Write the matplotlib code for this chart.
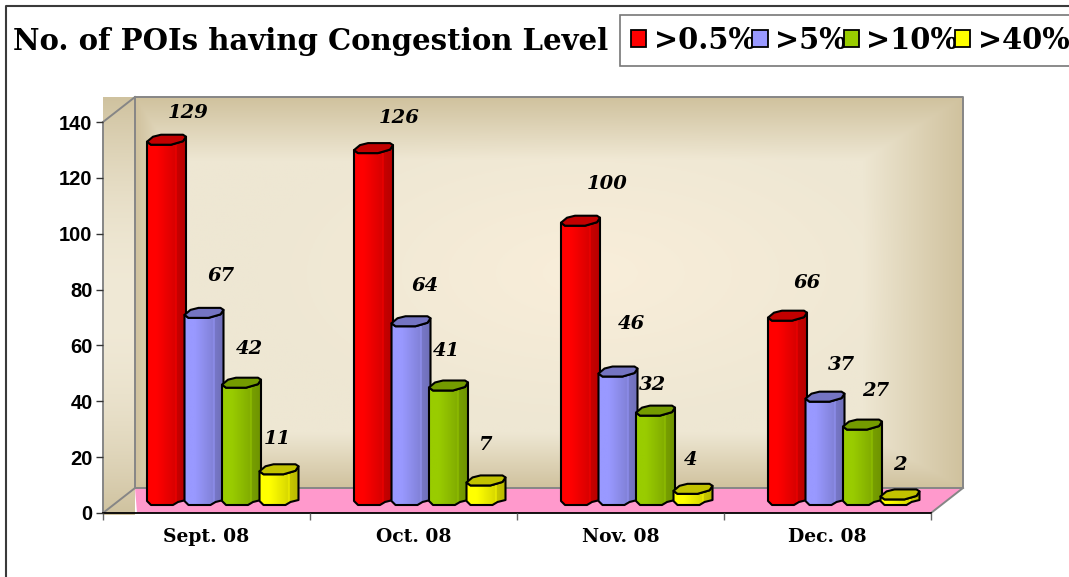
#!/usr/bin/env python3
"""Pseudo-3D clustered columns: POIs per congestion level, Sept.-Dec. 2008."""

import matplotlib
matplotlib.use("Agg")
import matplotlib.pyplot as plt
from matplotlib.colors import to_rgb
from matplotlib.lines import Line2D
from matplotlib.patches import Patch, Polygon
from matplotlib.transforms import IdentityTransform
import numpy as np

MONTHS = ["Sept. 08", "Oct. 08", "Nov. 08", "Dec. 08"]
LEVELS = [">0.5%", ">5%", ">10%", ">40%"]
OVER_05 = [129, 126, 100, 66]
OVER_5 = [67, 64, 46, 37]
OVER_10 = [42, 41, 32, 27]
OVER_40 = [11, 7, 4, 2]
SERIES = [OVER_05, OVER_5, OVER_10, OVER_40]
COLORS = ["#FF0000", "#9999FF", "#99CC00", "#FFFF00"]
TITLE = "No. of POIs having Congestion Level"
Y_TICKS = [0, 20, 40, 60, 80, 100, 120, 140]

# label nudges from each column's front top centre, in pixels
LABEL_NUDGE = [
    [(22, 32), (26, 35), (27, 42), (20, 38)],
    [(17, 42), (14, 40), (14, 53), (17, 37)],
    [(8, 39), (-2, 39), (-3, 31), (13, 39)],
    [(-2, 35), (0, 40), (-2, 34), (0, 34)],
]

SERIF = "DejaVu Serif"
W, H = 1069, 577
DEPTH_X, DEPTH_Y = 32, 25
BAR_W, BAR_STEP, BAR_LEFT, BAR_LIFT = 39, 37.5, 44, 8


def shade(color, k):
    return np.clip(np.array(to_rgb(color)) * k, 0, 1)


def face_gradient(color):
    u = np.linspace(0, 1, 80)
    k = np.interp(u, [0, 0.25, 0.72, 0.73, 0.76, 0.77, 1], [1, 1, 0.85, 0.92, 0.92, 0.78, 0.72])
    return np.array([[shade(color, v) for v in k]])


def wall_gradient():
    yy, xx = np.mgrid[0:1:200j, 0:1:400j]
    edge = np.maximum.reduce([
        1 - yy / 0.14, (yy - 0.84) / 0.16, 1 - xx / 0.05, (xx - 0.88) / 0.12,
    ])
    edge = np.clip(edge, 0, 1)[..., None]
    r = np.clip(np.hypot((xx - 0.55) / 0.4, (yy - 0.55) / 0.4), 0, 1)[..., None]
    inner, mid = np.array(to_rgb("#F9EEDA")), np.array(to_rgb("#EEE7D3"))
    outer = np.array(to_rgb("#D0C29E"))
    base = inner + (mid - inner) * r
    return base + (outer - base) * edge


def side_gradient():
    v = np.linspace(0, 1, 200)
    c0, c1 = np.array(to_rgb("#F0E9D6")), np.array(to_rgb("#CFC29F"))
    t = np.abs(v - 0.5)[..., None] * 2
    return (c0 + (c1 - c0) * t ** 2)[:, None, :]


def draw_walls(ax):
    ident = IdentityTransform()
    x0, y0 = ax.transData.transform((0, 0))
    x1, y1 = ax.transData.transform((4, 140))
    back = (x0 + DEPTH_X, x1 + DEPTH_X, y0 + DEPTH_Y, y1 + DEPTH_Y)
    ax.imshow(wall_gradient(), extent=back, transform=ident, origin="lower",
              aspect="auto", zorder=0, clip_on=False)
    ax.imshow(side_gradient(), extent=(x0, x0 + DEPTH_X, y0 - 2, y1 + DEPTH_Y),
              transform=ident, origin="lower", aspect="auto", zorder=0, clip_on=False)
    floor = [(x0 + 34, y0), (x1, y0), (x1 + DEPTH_X, y0 + DEPTH_Y), (x0 + DEPTH_X, y0 + DEPTH_Y)]
    ax.add_patch(Polygon(floor, closed=True, fc="#FF99CC", ec="none", transform=ident,
                         zorder=0.5, clip_on=False))
    wire = [
        ([x0 + DEPTH_X, x1 + DEPTH_X, x1 + DEPTH_X, x0 + DEPTH_X, x0 + DEPTH_X],
         [y1 + DEPTH_Y, y1 + DEPTH_Y, y0 + DEPTH_Y, y0 + DEPTH_Y, y1 + DEPTH_Y]),
        ([x0, x0 + DEPTH_X], [y1, y1 + DEPTH_Y]),
        ([x0, x0 + DEPTH_X], [y0, y0 + DEPTH_Y]),
        ([x1, x1 + DEPTH_X], [y0, y0 + DEPTH_Y]),
    ]
    for xs, ys in wire:
        ax.add_line(Line2D(xs, ys, color="#868686", lw=1.4, transform=ident, zorder=0.7,
                           clip_on=False))


def draw_column(fig, ax, left, value, color, z):
    ident = IdentityTransform()
    _, b = ax.transData.transform((0, 0))
    _, t = ax.transData.transform((0, value))
    b += BAR_LIFT
    t += BAR_LIFT
    l, w = left, BAR_W
    front = [(l + w, t + 8), (l + w - 3, t + 3.5), (l + 24, t), (l + 4, t), (l, t + 3)]
    body = [(l, b + 4), (l + 4, b), (l + 26, b), (l + 31, b + 3), (l + w, b + 5)] + front
    cap = front[::-1] + [(l + w - 3, t + 10), (l + 14, t + 10), (l + 6, t + 8)]
    poly = Polygon(body, closed=True, fc="none", ec="black", lw=1.5, transform=ident,
                   zorder=z + 0.2, clip_on=False, joinstyle="round")
    ax.add_patch(poly)
    im = ax.imshow(face_gradient(color), extent=(l, l + w, b, t + 10), transform=ident,
                   aspect="auto", zorder=z + 0.1)
    im.set_clip_box(fig.bbox)
    im.set_clip_path(poly)
    ax.add_patch(Polygon(cap, closed=True, fc=shade(color, 0.76), ec="black", lw=1.5,
                         transform=ident, zorder=z + 0.3, clip_on=False, joinstyle="round"))


def main():
    fig = plt.figure(figsize=(W / 100, H / 100), dpi=100, facecolor="white")
    ax = fig.add_axes([103 / W, (H - 513) / H, 828 / W, 391 / H], facecolor="none")
    ax.set_xlim(0, len(MONTHS))
    ax.set_ylim(0, 140)

    draw_walls(ax)

    z = 2
    for i in range(len(MONTHS)):
        for s, values in enumerate(SERIES):
            left = ax.transData.transform((i, 0))[0] + BAR_LEFT + s * BAR_STEP
            draw_column(fig, ax, left, values[i], COLORS[s], z)
            z += 1
            dx, dy = LABEL_NUDGE[s][i]
            ax.annotate(str(values[i]), xy=(i, values[i]),
                        xytext=(BAR_LEFT + s * BAR_STEP + BAR_W / 2 + dx, BAR_LIFT + dy),
                        textcoords="offset pixels",
                        ha="center", va="center", family=SERIF, weight="bold", style="italic",
                        fontsize=14, color="black", zorder=100, annotation_clip=False)

    ax.set_xlim(0, len(MONTHS))
    ax.set_ylim(0, 140)

    for side in ("top", "right"):
        ax.spines[side].set_visible(False)
    ax.spines["left"].set_color("#868686")
    ax.spines["left"].set_linewidth(1.4)
    ax.spines["bottom"].set_color("black")
    ax.spines["bottom"].set_linewidth(1.3)
    ax.spines["bottom"].set_zorder(1)
    ax.spines["left"].set_zorder(1)

    ax.set_yticks(Y_TICKS)
    ax.set_yticklabels(Y_TICKS, family="Liberation Sans", weight="bold", fontsize=14.5)
    ax.tick_params(axis="y", length=5, width=1, color="#333333", pad=2.5)
    ax.set_xticks(np.arange(len(MONTHS)) + 0.5, MONTHS, family=SERIF, weight="bold", fontsize=13.5)
    ax.set_xticks(np.arange(len(MONTHS) + 1), minor=True)
    ax.tick_params(axis="x", which="major", length=0, pad=11)
    ax.tick_params(axis="x", which="minor", length=5, width=1, color="#666666")

    fig.add_artist(Line2D([6, 6, W], [0, H - 6, H - 6], color="#3A3A3A", lw=1.5,
                          transform=IdentityTransform()))
    fig.text(13 / W, (H - 42) / H, TITLE, family=SERIF, weight="bold", fontsize=21,
             ha="left", va="center")

    handles = [Patch(fc=c, ec="black", lw=1.3, label=lab) for c, lab in zip(COLORS, LEVELS)]
    leg = fig.legend(handles=handles, loc="upper left", bbox_to_anchor=(620 / W, (H - 15) / H),
                     ncol=4, fancybox=False, edgecolor="#777777", framealpha=1,
                     prop={"family": SERIF, "weight": "bold", "size": 20.8},
                     handlelength=0.52, handleheight=0.52, handletextpad=0.26,
                     columnspacing=-0.1, borderpad=0.38, borderaxespad=0, labelspacing=0)
    leg.get_frame().set_linewidth(1.2)

    fig.savefig("out.png", dpi=100)
    plt.close(fig)
    return 0


if __name__ == "__main__":
    raise SystemExit(main())
